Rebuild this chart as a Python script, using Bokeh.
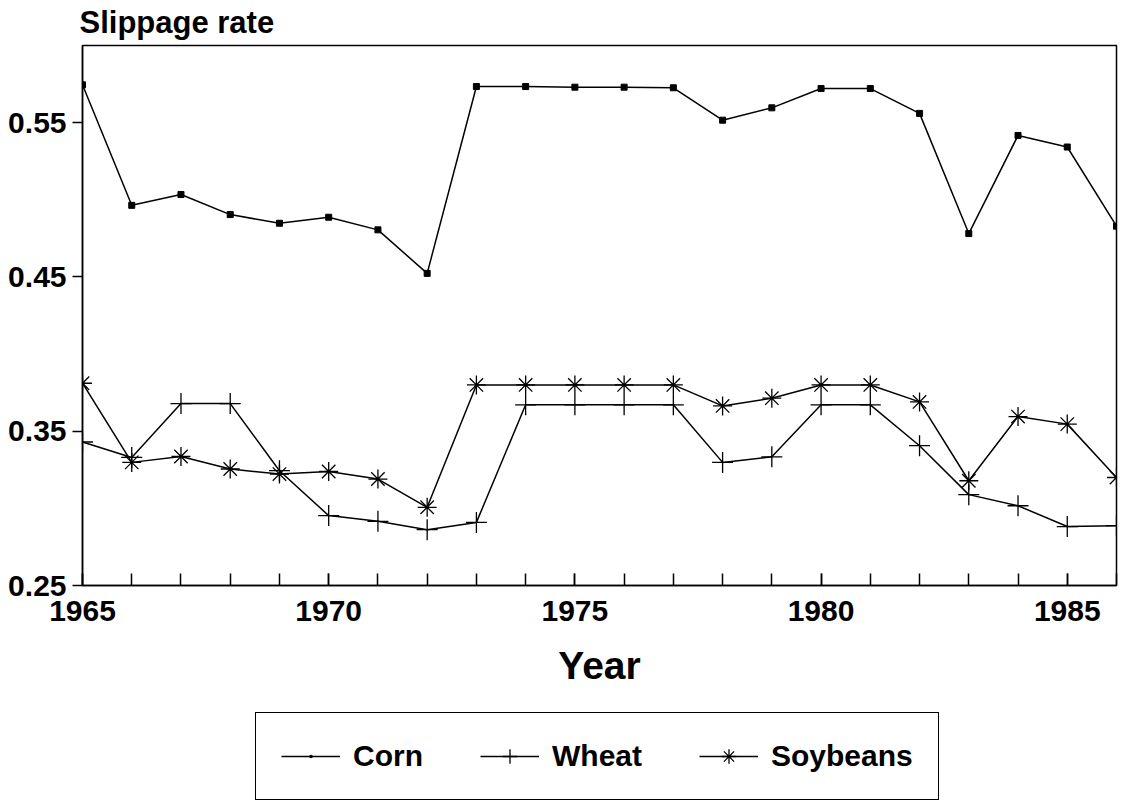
import numpy as np
from bokeh.plotting import figure
from bokeh.layouts import column
from bokeh.models import Range1d, FixedTicker, PrintfTickFormatter, Legend, LegendItem
from bokeh.embed import file_html
from bokeh.resources import INLINE

years = list(range(1965, 1987))
corn = [0.5745, 0.4964, 0.5034, 0.4904, 0.4848, 0.4887, 0.4805, 0.4523, 0.5734, 0.5734, 0.5730,
        0.5730, 0.5726, 0.5516, 0.5596, 0.5721, 0.5721, 0.5560, 0.4781, 0.5417, 0.5342, 0.4829]
wheat = [0.3430, 0.3330, 0.3679, 0.3679, 0.3244, 0.2953, 0.2916, 0.2862, 0.2909, 0.3671, 0.3671,
         0.3671, 0.3671, 0.3298, 0.3334, 0.3671, 0.3671, 0.3406, 0.3089, 0.3017, 0.2882, 0.2888]
soybeans = [0.3811, 0.3298, 0.3336, 0.3255, 0.3222, 0.3239, 0.3190, 0.3007, 0.3800, 0.3800, 0.3800,
            0.3800, 0.3800, 0.3664, 0.3714, 0.3800, 0.3800, 0.3690, 0.3179, 0.3595, 0.3546, 0.3200]
y_ticks = [0.25, 0.35, 0.45, 0.55]
x_ticks = [1965, 1970, 1975, 1980, 1985]
series_names = ["Corn", "Wheat", "Soybeans"]

FONT = "Liberation Sans"
FIG_W = 1126

p = figure(frame_width=1034, frame_height=540, output_backend="svg", toolbar_location=None,
           x_range=Range1d(1965, 1986), y_range=Range1d(0.25, 0.60),
           min_border_left=82, min_border_right=10, min_border_top=45, min_border_bottom=125,
           title="Slippage rate")
p.xgrid.visible = False
p.ygrid.visible = False
p.outline_line_color = "black"
p.outline_line_width = 1.5
p.outline_line_alpha = 1
p.background_fill_color = "white"
p.border_fill_color = "white"

p.title.align = "left"
p.title.vertical_align = "top"
p.title.offset = -3
p.title.standoff = 8
p.title.text_font = FONT
p.title.text_font_style = "bold"
p.title.text_font_size = "31px"
p.title.text_color = "black"

# Axes
p.xaxis.ticker = FixedTicker(ticks=x_ticks, minor_ticks=years)
p.xaxis.major_tick_in = 12
p.xaxis.major_tick_out = 0
p.xaxis.minor_tick_in = 12
p.xaxis.minor_tick_out = 0
p.xaxis.major_label_standoff = 15
p.xaxis.axis_label = "Year"
p.xaxis.axis_label_text_font = FONT
p.xaxis.axis_label_text_font_style = "bold"
p.xaxis.axis_label_text_font_size = "39px"
p.xaxis.axis_label_text_color = "black"
p.xaxis.axis_label_standoff = 20

p.yaxis.ticker = FixedTicker(ticks=y_ticks, minor_ticks=[])
p.yaxis.formatter = PrintfTickFormatter(format="%.2f")
p.yaxis.major_tick_in = 0
p.yaxis.major_tick_out = 10
p.yaxis.minor_tick_in = 0
p.yaxis.minor_tick_out = 0
p.yaxis.major_label_standoff = 6

for ax in (p.xaxis, p.yaxis):
    ax.axis_line_color = "black"
    ax.axis_line_width = 1.5
    ax.major_tick_line_color = "black"
    ax.major_tick_line_width = 1.5
    ax.minor_tick_line_color = "black"
    ax.minor_tick_line_width = 1.5
    ax.major_label_text_font = FONT
    ax.major_label_text_font_style = "bold"
    ax.major_label_text_font_size = "30px"
    ax.major_label_text_color = "black"

# Series
lw = 1.5
p.line(years, corn, line_color="black", line_width=lw)
p.scatter(years, corn, marker="square", size=6, fill_color="black", line_color="black")
p.line(years, wheat, line_color="black", line_width=lw)
p.scatter(years, wheat, marker="cross", size=21, line_color="black", line_width=1.3)
p.line(years, soybeans, line_color="black", line_width=lw)
p.scatter(years, soybeans, marker="asterisk", size=19, line_color="black", line_width=1.3)

# Legend strip (separate figure below the chart, legend glyph keys only)
lf = figure(width=FIG_W, height=92, output_backend="svg", toolbar_location=None,
            x_axis_location=None, y_axis_location=None,
            x_range=Range1d(0, 1), y_range=Range1d(0, 1),
            min_border_left=0, min_border_right=0, min_border_top=0, min_border_bottom=0)
lf.xgrid.visible = False
lf.ygrid.visible = False
lf.outline_line_color = None
lf.background_fill_color = "white"
lf.border_fill_color = "white"
nan = [np.nan]
k_corn_l = lf.line(nan, nan, line_color="black", line_width=lw)
k_corn_m = lf.scatter(nan, nan, marker="dot", size=12, fill_color="black", line_color="black", line_width=2)
k_wheat_l = lf.line(nan, nan, line_color="black", line_width=lw)
k_wheat_m = lf.scatter(nan, nan, marker="cross", size=12, line_color="black", line_width=1.3)
k_soy_l = lf.line(nan, nan, line_color="black", line_width=lw)
k_soy_m = lf.scatter(nan, nan, marker="asterisk", size=12, line_color="black", line_width=1.3)

legend = Legend(items=[
    LegendItem(label=series_names[0], renderers=[k_corn_l, k_corn_m]),
    LegendItem(label=series_names[1], renderers=[k_wheat_l, k_wheat_m]),
    LegendItem(label=series_names[2], renderers=[k_soy_l, k_soy_m]),
], orientation="horizontal", location=(173, 2))
legend.label_text_font = FONT
legend.label_text_font_style = "bold"
legend.label_text_font_size = "30px"
legend.label_text_color = "black"
legend.label_standoff = 13
legend.glyph_width = 59
legend.glyph_height = 36
legend.spacing = 57
legend.padding = 25
legend.margin = 0
legend.border_line_color = "black"
legend.border_line_width = 1.5
legend.border_line_alpha = 1
legend.background_fill_alpha = 1
lf.add_layout(legend, "center")

layout = column(p, lf, spacing=0)
open("out.html", "w").write(file_html(layout, INLINE))
